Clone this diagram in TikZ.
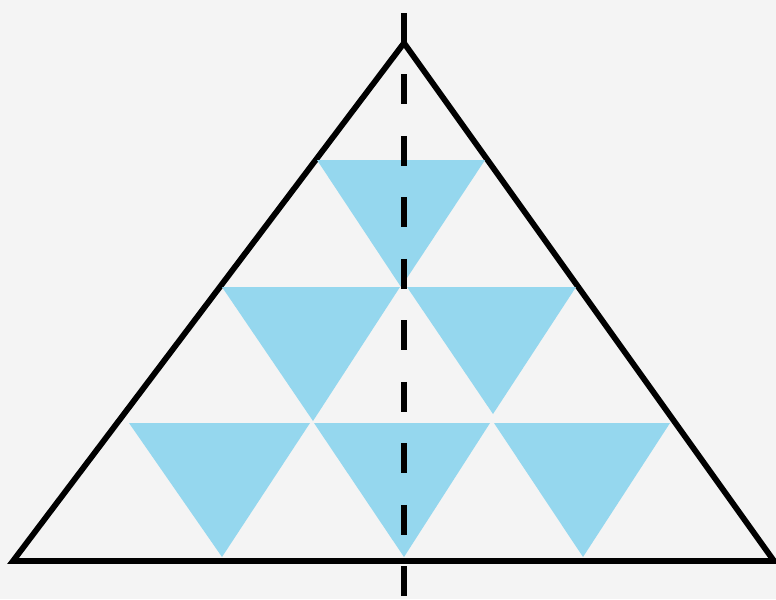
\documentclass[tikz,border=0pt]{standalone}
\usepackage{tikz}
\definecolor{paper}{HTML}{F4F4F4}
\definecolor{sky}{HTML}{95D7EE}
\tikzset{
  outline/.style={draw=black,line width=3.3pt,line join=miter},
  piece/.style={fill=sky,draw=none},
  axis/.style={draw=black,line width=3pt,dash pattern=on 0.6cm off 0.63cm},
}

\begin{document}
\begin{tikzpicture}[x=0.02cm,y=-0.02cm]
\fill[paper] (0,0) rectangle (776,599);
\useasboundingbox (0,0) rectangle (776,599);
% big triangle
\coordinate (apex) at (404,43);
\coordinate (bl) at (13,561);
\coordinate (br) at (774,561);
\draw[outline] (bl) -- (apex) -- (br) -- cycle;
% blue pieces: left x / right x / tip x / top y / tip y
\foreach \a/\b/\c/\ty/\by in {317/485/401/160/287,
  222/400/313/287/421, 407/576/493/287/414,
  129/310/222/423/557, 314/490/404/423/557, 494/670/583/423/557}
  \fill[piece] (\a,\ty) -- (\b,\ty) -- (\c,\by) -- cycle;
% symmetry axis
\coordinate (top) at (404,13);
\coordinate (bot) at (404,599);
\draw[axis] (top) -- (bot);
\end{tikzpicture}
\end{document}
